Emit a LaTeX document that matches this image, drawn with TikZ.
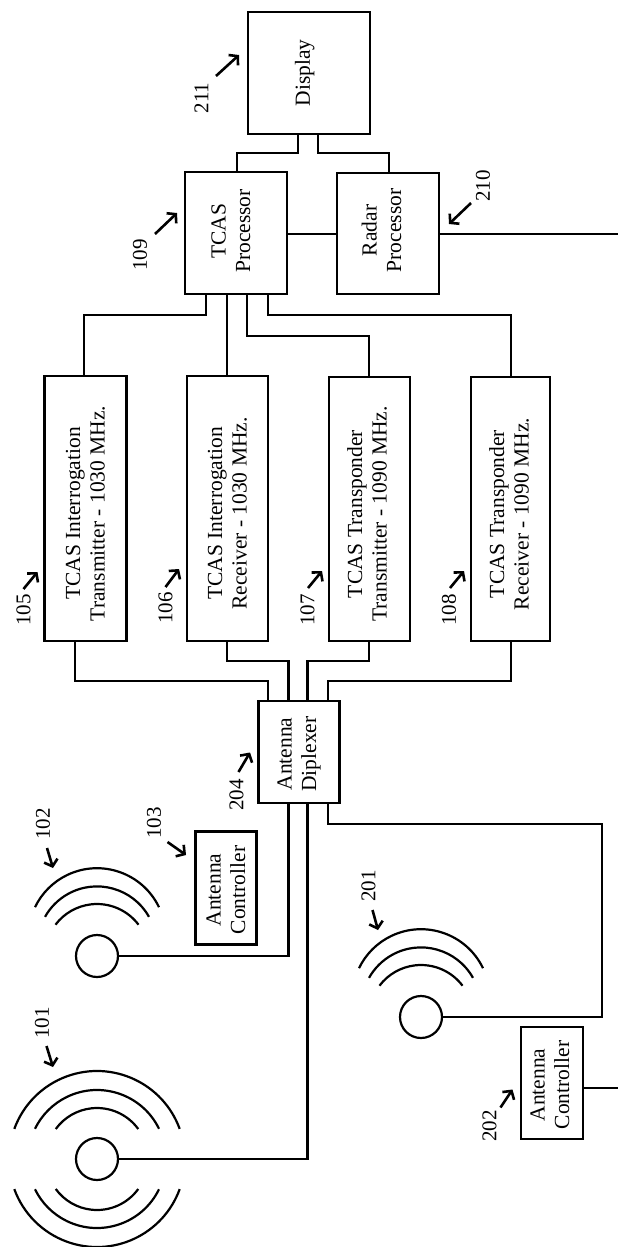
\documentclass[tikz,border=0pt]{standalone}
\usepackage{fontspec}
\setmainfont{Liberation Serif}
\usetikzlibrary{arrows.meta}
\newcommand{\vtext}[2][0pt]{\rotatebox{90}{\begin{tabular}{@{}c@{}}#2\end{tabular}\hspace*{#1}}}
\tikzset{
  box/.style = {draw, line width=2.8pt, outer sep=0pt, inner sep=0pt, font=\fontsize{21.5}{24.5}\selectfont},
  wire/.style = {line width=2.4pt, line join=miter},
  wave/.style = {line width=2.2pt},
  ant/.style = {draw, circle, line width=2.2pt, minimum size=42pt, inner sep=0pt, outer sep=0pt},
  num/.style = {rotate=90, inner sep=0pt, font=\fontsize{21}{24}\selectfont},
  lead/.style = {line width=2.6pt, -{Straight Barb[length=6pt,width=14pt,line width=2.6pt]}}
}
\begin{document}
\begin{tikzpicture}[x=1pt, y=-1pt]
  \useasboundingbox (0,0) rectangle (618,1247);

  % processors and display
  \node[box, minimum width=122pt, minimum height=122pt] (display) at (309,73) {\vtext{Display}\hspace*{8pt}};
  \node[box, minimum width=102pt, minimum height=122pt] (tcas) at (236,233) {\vtext[-4pt]{TCAS\\Processor}\hspace*{6pt}};
  \node[box, minimum width=102pt, minimum height=121pt] (radar) at (388,233.5) {\vtext[-6pt]{Radar\\Processor}\hspace*{8pt}};

  % the four TCAS units
  \node[box, minimum width=82pt, minimum height=265pt] (tx1030) at (85.5,508.5) {\vtext[10pt]{TCAS Interrogation\\Transmitter - 1030 MHz.}\hspace*{-4pt}};
  \node[box, minimum width=81pt, minimum height=265pt] (rx1030) at (227.5,508.5) {\vtext[10pt]{TCAS Interrogation\\Receiver - 1030 MHz.}\hspace*{-4pt}};
  \node[box, minimum width=81pt, minimum height=264pt] (tx1090) at (369.5,509) {\vtext[10pt]{TCAS Transponder\\Transmitter - 1090 MHz.}};
  \node[box, minimum width=79pt, minimum height=264pt] (rx1090) at (510.5,509) {\vtext[10pt]{TCAS Transponder\\Receiver - 1090 MHz.}\hspace*{-2pt}};

  \node[box, minimum width=81pt, minimum height=102pt] (diplexer) at (299,752) {\vtext[4pt]{Antenna\\Diplexer}};
  \node[box, line width=2.2pt, minimum width=61pt, minimum height=113pt] (ctrlA) at (226,888) {\vtext[4pt]{Antenna\\Controller}\hspace*{-4pt}};
  \node[box, line width=2.2pt, minimum width=62pt, minimum height=112pt] (ctrlB) at (552,1083) {\vtext[4pt]{Antenna\\Controller}};

  % antennas
  \node[ant] (ant101) at (97,1159) {};
  \node[ant] (ant102) at (97,956) {};
  \node[ant] (ant201) at (421,1017) {};

  \foreach \rad/\ang in {88/20, 69/26, 51/36} {
    \draw[wave] (ant101.center) ++(\ang:\rad pt) arc[start angle=\ang, end angle=180-\ang, radius=\rad pt];
    \draw[wave] (ant101.center) ++(-\ang:\rad pt) arc[start angle=-\ang, end angle=\ang-180, radius=\rad pt];
  }
  \foreach \name in {ant102, ant201}
    \foreach \rad/\ang/\up in {68.8/25.7/19, 59.6/29.3/10, 52/37/0}
      \draw[wave] (\name.center) ++(0,-\up) ++(\ang:\rad pt) arc[start angle=\ang, end angle=180-\ang, radius=\rad pt];

  % connection points
  \coordinate (tcasA) at (206,294);
  \coordinate (tcasB) at (227,294);
  \coordinate (tcasC) at (247,294);
  \coordinate (tcasD) at (268,294);
  \coordinate (dipA) at (268,701);
  \coordinate (dipB) at (288.5,701);
  \coordinate (dipC) at (307.5,701);
  \coordinate (dipD) at (328,701);
  \coordinate (dipE) at (288.5,803);
  \coordinate (dipF) at (307.5,803);
  \coordinate (dipG) at (328,803);
  \coordinate (dispA) at (298,134);
  \coordinate (dispB) at (318,134);
  \coordinate (txDown) at (75,641);
  \coordinate (radarOut) at (618,234);
  \coordinate (ctrlOut) at (618,1088);

  \draw[wire] (display.south -| dispA) -- (298,153) -| (tcas.north -| 237,0);
  \draw[wire] (display.south -| dispB) -- (318,153) -| (radar.north -| 389,0);
  \draw[wire] (tcas.east |- 0,234) -- (radar.west |- 0,234);
  \draw[wire] (radar.east |- 0,234) -- (radarOut);

  \draw[wire] (tcasA) -- (206,315) -| (84,376);
  \draw[wire] (tcasB) -- (227,376);
  \draw[wire] (tcasC) -- (247,336) -| (369,377);
  \draw[wire] (tcasD) -- (268,315) -| (511,377);

  \draw[wire] (txDown) -- (75,681) -| (dipA);
  \draw[wire] (227,641) -- (227,661) -| (dipB);
  \draw[wire] (369,641) -- (369,661) -| (dipC);
  \draw[wire] (511,641) -- (511,681) -| (dipD);

  \draw[wire] (ant102.east) -| (dipE);
  \draw[wire] (ant101.east) -| (dipF);
  \draw[wire] (ant201.east) -- (602,1017) -- (602,824) -| (dipG);
  \draw[wire] (ctrlB.east |- ctrlOut) -- (ctrlOut);

  % reference numbers and their arrows
  \foreach \lab/\lx/\ly/\sx/\sy/\tx/\ty in {
    101/42/1023/46.5/1046/53/1067, 102/43/824/47/848/53/868,
    103/154/823/167.5/842/186/855, 204/236.5/795/238.5/772/250/752.5,
    201/368.5/886/372.5/910/378/930, 202/489.5/1126/500.5/1107.5/512.5/1089.5,
    105/23.5/610/23.5/589/37.5/572, 106/165.5/608/165.5/587/179/569,
    107/307.5/610/308/588/322/571, 108/449/610/450/588/464/571,
    211/201.5/98/216/76/239/55, 109/140/255/155/234/177/213,
    210/483/186/471/203/449/224} {
    \node[num] (n\lab) at (\lx,\ly) {\lab};
    \coordinate (s\lab) at (\sx,\sy);
    \coordinate (t\lab) at (\tx,\ty);
    \draw[lead] (s\lab) -- (t\lab);
  }
\end{tikzpicture}
\end{document}
